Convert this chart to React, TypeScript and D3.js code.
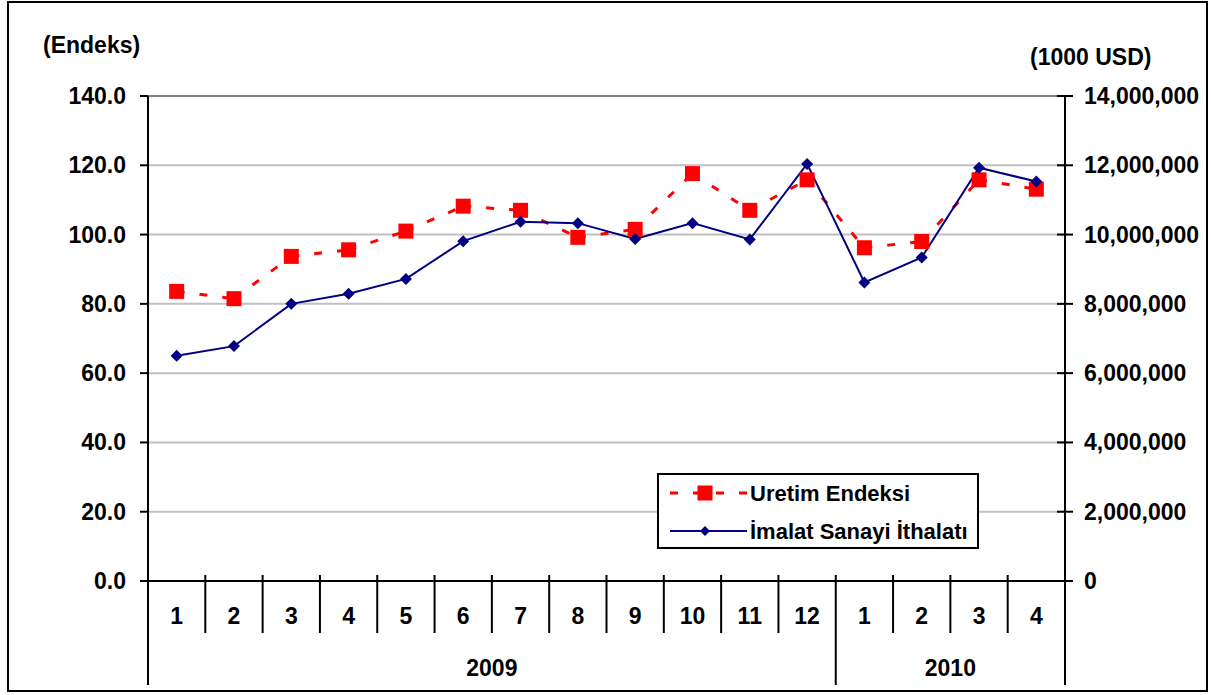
import React from "react";
import * as d3 from "d3";

const months = ["1", "2", "3", "4", "5", "6", "7", "8", "9", "10", "11", "12", "1", "2", "3", "4"];
const yearLabels = ["2009", "2010"];
const yearSpans = [12, 4];
const uretimEndeksi = [83.6, 81.5, 93.7, 95.6, 101.0, 108.2, 107.0, 99.2, 101.5, 117.6, 107.0, 115.8, 96.2, 98.0, 115.8, 113.1];
const imalatIthalat = [6500000, 6780000, 8000000, 8290000, 8720000, 9810000, 10370000, 10330000, 9870000, 10330000, 9860000, 12040000, 8620000, 9340000, 11930000, 11530000];
const leftTicks = [0, 20, 40, 60, 80, 100, 120, 140];
const rightTicks = [0, 2000000, 4000000, 6000000, 8000000, 10000000, 12000000, 14000000];
const seriesNames = ["Uretim Endeksi", "İmalat Sanayi İthalatı"];

const W = 1211;
const H = 695;
const L = 148;
const R = 1065;
const T = 96;
const B = 581;
const FONT = "'Liberation Sans', Arial, sans-serif";

export default function App() {
  const x = d3.scaleBand<number>().domain(d3.range(months.length)).range([L, R]).padding(0);
  const cx = (i: number) => (x(i) as number) + x.bandwidth() / 2;
  const yL = d3.scaleLinear().domain([0, 140]).range([B, T]);
  const yR = d3.scaleLinear().domain([0, 14000000]).range([B, T]);
  const fmtL = d3.format(".1f");
  const fmtR = d3.format(",");

  const redPts = uretimEndeksi.map((v, i) => [cx(i), yL(v)] as [number, number]);
  const bluePts = imalatIthalat.map((v, i) => [cx(i), yR(v)] as [number, number]);
  const blueLine = d3.line()(bluePts) || "";

  const diamond = (px: number, py: number, r: number) =>
    `M${px},${py - r}L${px + r},${py}L${px},${py + r}L${px - r},${py}Z`;

  // year boundaries
  const bounds: number[] = [0];
  yearSpans.forEach((s, i) => bounds.push(bounds[i] + s));

  const sq = 15;

  return (
    <svg
      width={W}
      height={H}
      style={{ position: "absolute", left: 0, top: 0, background: "#fff" }}
      fontFamily={FONT}
      fontWeight="bold"
    >
      <rect x={0} y={0} width={W} height={H} fill="#fff" />
      {/* outer border */}
      <rect x={8} y={2} width={1199} height={689} fill="none" stroke="#000" strokeWidth={2} />

      {/* gridlines */}
      {leftTicks.filter((t) => t > 0).map((t) => (
        <line
          key={"g" + t}
          x1={L}
          x2={R}
          y1={yL(t)}
          y2={yL(t)}
          stroke={t === 140 ? "#808080" : "#c0c0c0"}
          strokeWidth={2}
        />
      ))}

      {/* axes */}
      <line x1={L} x2={L} y1={T} y2={685} stroke="#000" strokeWidth={2} />
      <line x1={R} x2={R} y1={T} y2={685} stroke="#000" strokeWidth={2} />
      <line x1={L} x2={R + 8} y1={B} y2={B} stroke="#000" strokeWidth={2} />

      {/* left ticks and labels */}
      {leftTicks.map((t) => (
        <g key={"l" + t}>
          <line x1={L - 8} x2={L} y1={yL(t)} y2={yL(t)} stroke="#000" strokeWidth={2} />
          <text x={126} y={yL(t) + 8} textAnchor="end" fontSize={23} fill="#000">
            {fmtL(t)}
          </text>
        </g>
      ))}
      {/* right ticks and labels */}
      {rightTicks.map((t) => (
        <g key={"r" + t}>
          <line x1={R - 8} x2={R + 8} y1={yR(t)} y2={yR(t)} stroke="#000" strokeWidth={2} />
          <text x={1084} y={yR(t) + 8} textAnchor="start" fontSize={23} fill="#000">
            {fmtR(t)}
          </text>
        </g>
      ))}

      <text x={43} y={53} fontSize={23} fill="#000">(Endeks)</text>
      <text x={1030} y={65} fontSize={23} fill="#000">(1000 USD)</text>

      {/* category dividers */}
      {d3.range(1, months.length).map((i) => {
        const isYear = bounds.includes(i);
        return (
          <line
            key={"d" + i}
            x1={x(i) as number}
            x2={x(i) as number}
            y1={575}
            y2={isYear ? 685 : 633}
            stroke="#000"
            strokeWidth={2}
          />
        );
      })}
      {months.map((m, i) => (
        <text key={"m" + i} x={cx(i)} y={624} textAnchor="middle" fontSize={23} fill="#000">
          {m}
        </text>
      ))}
      {yearLabels.map((yl, k) => {
        const x0 = x(bounds[k]) as number;
        const x1 = bounds[k + 1] < months.length ? (x(bounds[k + 1]) as number) : R;
        return (
          <text key={"y" + yl} x={(x0 + x1) / 2} y={676} textAnchor="middle" fontSize={23} fill="#000">
            {yl}
          </text>
        );
      })}

      {/* red dashed series, per segment */}
      {redPts.slice(1).map((p, i) => (
        <line
          key={"rs" + i}
          x1={redPts[i][0]}
          y1={redPts[i][1]}
          x2={p[0]}
          y2={p[1]}
          stroke="#ff0000"
          strokeWidth={3}
          strokeDasharray="8 15"
        />
      ))}
      {/* blue line */}
      <path d={blueLine} fill="none" stroke="#000080" strokeWidth={2} />
      {redPts.map((p, i) => (
        <rect key={"rm" + i} x={p[0] - sq / 2} y={p[1] - sq / 2} width={sq} height={sq} fill="#ff0000" />
      ))}
      {bluePts.map((p, i) => (
        <path key={"bm" + i} d={diamond(p[0], p[1], 6)} fill="#000080" />
      ))}

      {/* legend */}
      <rect x={658} y={474} width={320} height={74} fill="#fff" stroke="#000" strokeWidth={2} />
      <line x1={670} x2={747} y1={493} y2={493} stroke="#ff0000" strokeWidth={3} strokeDasharray="8 15" />
      <rect x={705 - sq / 2} y={493 - sq / 2} width={sq} height={sq} fill="#ff0000" />
      <text x={750} y={501} fontSize={22} fill="#000">{seriesNames[0]}</text>
      <line x1={670} x2={747} y1={531} y2={531} stroke="#000080" strokeWidth={2} />
      <path d={diamond(705, 531, 5)} fill="#000080" />
      <text x={750} y={539} fontSize={22} fill="#000">{seriesNames[1]}</text>
    </svg>
  );
}
